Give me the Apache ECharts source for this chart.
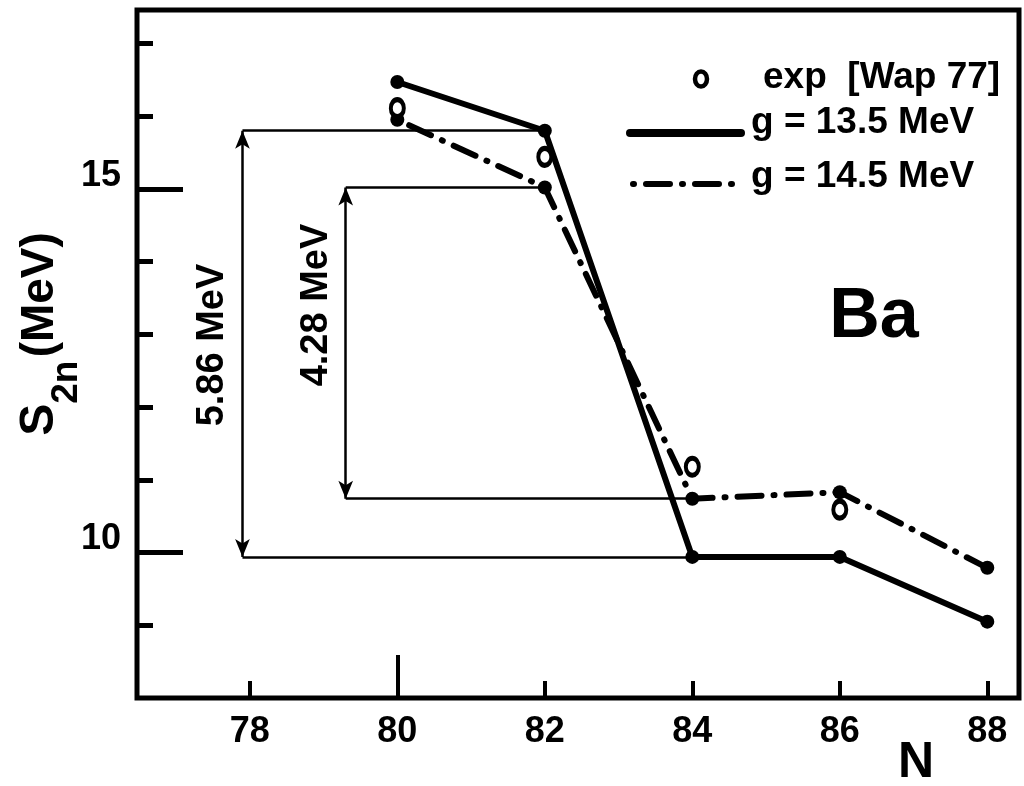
<!DOCTYPE html>
<html>
<head>
<meta charset="utf-8">
<script src="https://cdn.jsdelivr.net/npm/echarts@6/dist/echarts.min.js"></script>
<style>
  html, body { margin: 0; background: #fff; }
  #main { width: 1024px; height: 786px; }
</style>
</head>
<body>
<div id="main"></div>
<script>
// neutron number of the computed points
var nValues = [80, 82, 84, 86, 88];
// S2n (MeV), g = 13.5 MeV (solid) and g = 14.5 MeV (dash-dot)
var s2nG135 = [16.47, 15.80, 9.94, 9.94, 9.05];
var s2nG145 = [15.95, 15.02, 10.74, 10.83, 9.79];
// experiment [Wap 77]
var expN = [80, 82, 84, 86];
var expS2n = [16.11, 15.44, 11.18, 10.59];
// ticks
var xTicks = [78, 80, 82, 84, 86, 88];
var xLongTick = [80];
var yMinorTicks = [9, 11, 12, 13, 14, 16, 17];
var yMajorTicks = [10, 15];
// N where the two gap brackets stand
var bracketN = [77.9, 79.3];

var FONT = '"Liberation Sans", Arial, sans-serif';

var myChart = echarts.init(document.getElementById('main'));

function pairs(xs, ys) {
    return xs.map(function (x, i) { return [x, ys[i]]; });
}

// thin lines + double arrow showing the shell gap between N=82 and N=84
function bracket(xPos, vals) {
    var top = vals[1], bottom = vals[2];
    return [
        [{ coord: [xPos, top] }, { coord: [nValues[1], top] }],
        [{ coord: [xPos, bottom] }, { coord: [nValues[2], bottom] }],
        [{ coord: [xPos, bottom], symbol: 'arrow' }, { coord: [xPos, top], symbol: 'arrow' }]
    ];
}

function txt(x, y, text, size, rot, align) {
    return {
        type: 'text', x: x, y: y, rotation: rot || 0,
        style: { text: text, font: 'bold ' + size + 'px ' + FONT, fill: '#000',
            textAlign: align || 'center', textVerticalAlign: 'middle',
            align: align || 'center', verticalAlign: 'middle' }
    };
}

var xMin = 76.47, xMax = 88.43, yMin = 8, yMax = 17.46;

var option = {
    animation: false,
    backgroundColor: '#fff',
    grid: {
        left: 137, right: 5, top: 10, bottom: 88,
        show: true, borderColor: '#000', borderWidth: 5
    },
    xAxis: [{
        type: 'value', min: xMin, max: xMax,
        axisLine: { show: false },
        splitLine: { show: false },
        axisTick: { show: true, inside: true, length: 17, customValues: xTicks,
            lineStyle: { color: '#000', width: 4 } },
        axisLabel: { customValues: xTicks, margin: 16, color: '#000',
            fontFamily: FONT, fontWeight: 'bold', fontSize: 36 }
    }, {
        type: 'value', min: xMin, max: xMax, position: 'bottom',
        axisLine: { show: false },
        splitLine: { show: false },
        axisTick: { show: true, inside: true, length: 43, customValues: xLongTick,
            lineStyle: { color: '#000', width: 4 } },
        axisLabel: { show: false }
    }],
    yAxis: [{
        type: 'value', min: yMin, max: yMax, position: 'left',
        axisLine: { show: false },
        splitLine: { show: false },
        axisTick: { show: true, inside: true, length: 16, customValues: yMinorTicks,
            lineStyle: { color: '#000', width: 5 } },
        axisLabel: { show: false }
    }, {
        type: 'value', min: yMin, max: yMax, position: 'left', offset: 0,
        axisLine: { show: false },
        splitLine: { show: false },
        axisTick: { show: true, inside: true, length: 46, customValues: yMajorTicks,
            lineStyle: { color: '#000', width: 5 } },
        axisLabel: { customValues: yMajorTicks, margin: 16, color: '#000',
            verticalAlign: 'bottom', lineHeight: 26,
            fontFamily: FONT, fontWeight: 'bold', fontSize: 36 }
    }],
    series: [{
        name: 'gaps',
        type: 'line',
        data: [],
        z: 1,
        markLine: {
            silent: true,
            symbol: ['none', 'none'],
            symbolSize: [11, 18],
            label: { show: false },
            lineStyle: { color: '#000', width: 2.5, type: 'solid' },
            data: bracket(bracketN[0], s2nG135).concat(bracket(bracketN[1], s2nG145))
        }
    }, {
        name: 'g = 13.5 MeV',
        type: 'line',
        data: pairs(nValues, s2nG135),
        z: 3,
        symbol: 'circle',
        symbolSize: 14,
        itemStyle: { color: '#000' },
        lineStyle: { color: '#000', width: 6 }
    }, {
        name: 'g = 14.5 MeV',
        type: 'line',
        data: pairs(nValues, s2nG145),
        z: 3,
        symbol: 'circle',
        symbolSize: 14,
        itemStyle: { color: '#000' },
        lineStyle: { color: '#000', width: 6, type: [1, 12, 24, 12], cap: 'round' }
    }, {
        name: 'exp [Wap 77]',
        type: 'scatter',
        data: pairs(expN, expS2n),
        z: 4,
        symbol: 'circle',
        symbolSize: [13, 17],
        itemStyle: { color: '#fff', borderColor: '#000', borderWidth: 4.5, opacity: 1 }
    }],
    graphic: [
        // axis titles
        { type: 'text', x: 40, y: 334, rotation: Math.PI / 2,
          style: { text: '{s|S}{sub|2n} {u|(MeV)}', fill: '#000',
            textAlign: 'center', textVerticalAlign: 'middle', align: 'center', verticalAlign: 'middle',
            rich: {
                s: { fontFamily: FONT, fontWeight: 'bold', fontSize: 48, lineHeight: 90, verticalAlign: 'middle' },
                sub: { fontFamily: FONT, fontWeight: 'bold', fontSize: 37, lineHeight: 36, verticalAlign: 'bottom' },
                u: { fontFamily: FONT, fontWeight: 'bold', fontSize: 46, lineHeight: 60, verticalAlign: 'middle' }
            } } },
        txt(916, 763, 'N', 50),
        // gap labels
        txt(213, 345, '5.86 MeV', 38, Math.PI / 2),
        txt(317, 305, '4.28 MeV', 38, Math.PI / 2),
        // element
        txt(874, 318, 'Ba', 70),
        // legend
        { type: 'ellipse', shape: { cx: 701, cy: 79, rx: 6, ry: 7.5 },
          style: { fill: '#fff', stroke: '#000', lineWidth: 4.5 } },
        txt(763, 78, 'exp  [Wap 77]', 37, 0, 'left'),
        { type: 'line', shape: { x1: 630, y1: 133, x2: 741, y2: 133 },
          style: { stroke: '#000', lineWidth: 8, lineCap: 'round' } },
        txt(751, 123, 'g = 13.5 MeV', 37, 0, 'left'),
        { type: 'line', shape: { x1: 633, y1: 184, x2: 740, y2: 184 },
          style: { stroke: '#000', lineWidth: 6, lineCap: 'round', lineDash: [1, 12, 24, 12] } },
        txt(751, 177, 'g = 14.5 MeV', 37, 0, 'left')
    ]
};

myChart.setOption(option);
</script>
</body>
</html>
